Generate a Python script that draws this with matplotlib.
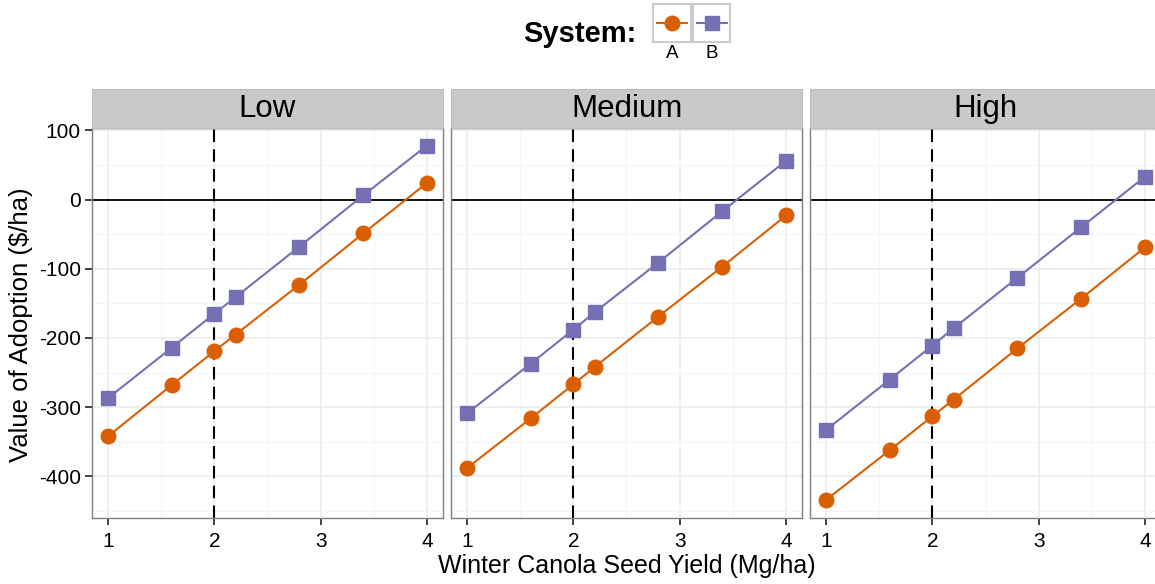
import matplotlib
matplotlib.use("Agg")
import matplotlib.pyplot as plt
from matplotlib.ticker import MultipleLocator

plt.rcParams['font.family'] = ['Liberation Sans', 'DejaVu Sans']

yield_x = [1.0, 1.6, 2.0, 2.2, 2.8, 3.4, 4.0]
panels = ["Low", "Medium", "High"]
systems = ["A", "B"]

low_A = [-342, -268, -219, -195, -123, -49, 24]
low_B = [-287, -214, -165, -141, -68, 6, 78]
med_A = [-388, -316, -267, -242, -169, -97, -23]
med_B = [-309, -237, -188, -163, -91, -17, 56]
high_A = [-434, -362, -313, -289, -215, -143, -69]
high_B = [-333, -260, -211, -186, -113, -40, 33]

data = {"Low": (low_A, low_B), "Medium": (med_A, med_B), "High": (high_A, high_B)}

x_ticks = [1, 2, 3, 4]
y_ticks = [-400, -300, -200, -100, 0, 100]
ref_x = 2

colors = {"A": "#D95F02", "B": "#7570B3"}
markers = {"A": "o", "B": "s"}
msize = {"A": 10.5, "B": 10}

W, H = 1155, 584
fig = plt.figure(figsize=(W / 100, H / 100), dpi=100)

def px_axes(l, t, r, b):
    return fig.add_axes([l / W, 1 - b / H, (r - l) / W, (b - t) / H])

lefts = [92, 451, 810]
pw = 351
top, bottom = 127.5, 518
strip_top = 89

for i, name in enumerate(panels):
    l = lefts[i]
    ax = px_axes(l, top, l + pw, bottom)
    ax.set_xlim(0.85, 4.15)
    ax.set_ylim(-460, 104)
    ax.xaxis.set_major_locator(MultipleLocator(1))
    ax.xaxis.set_minor_locator(MultipleLocator(0.5))
    ax.yaxis.set_major_locator(MultipleLocator(100))
    ax.yaxis.set_minor_locator(MultipleLocator(50))
    ax.grid(True, which='major', color='#EBEBEB', lw=1.1)
    ax.grid(True, which='minor', color='#F5F5F5', lw=0.8)
    ax.set_axisbelow(True)
    for sp in ax.spines.values():
        sp.set_color('#7F7F7F')
        sp.set_linewidth(1.0)
    ax.tick_params(which='minor', length=0)
    ax.tick_params(which='major', length=5, width=1.3, color='#333333',
                   labelsize=15, labelcolor='black', pad=3)
    ax.tick_params(axis='x', pad=5)
    ax.set_xticks(x_ticks)
    ax.set_yticks(y_ticks)
    if i == 0:
        ax.set_yticklabels([str(v) for v in y_ticks])
    else:
        ax.tick_params(axis='y', length=0, labelleft=False)
    ax.axhline(0, color='black', lw=1.3, zorder=2)
    ax.axvline(ref_x, color='black', lw=1.5, ls=(0, (6, 3.5)), zorder=2)
    for s, vals in zip(systems, data[name]):
        ax.plot(yield_x, vals, color=colors[s], lw=1.5, marker=markers[s],
                ms=msize[s], zorder=3, clip_on=False)
    # strip
    sax = px_axes(l, strip_top, l + pw, top)
    sax.set_facecolor('#C9C9C9')
    sax.set_xticks([]); sax.set_yticks([])
    for sp in sax.spines.values():
        sp.set_color('#BDBDBD')
        sp.set_linewidth(0.8)
    sax.text(0.5, 0.47, name, transform=sax.transAxes, ha='center', va='center',
             fontsize=22.5)

fig.text(627 / W, 1 - 566 / H, "Winter Canola Seed Yield (Mg/ha)", ha='center',
         va='center', fontsize=18)
fig.text(21 / W, 1 - 325 / H, "Value of Adoption ($/ha)", ha='center',
         va='center', rotation=90, fontsize=18.5)

# legend
fig.text(580 / W, 1 - 34 / H, "System:", ha='center', va='center',
         fontsize=21, fontweight='bold')
key_lefts = [653, 693]
for s, kl in zip(systems, key_lefts):
    kax = px_axes(kl, 3.5, kl + 37.5, 41.5)
    kax.set_xlim(0, 1); kax.set_ylim(0, 1)
    kax.set_xticks([]); kax.set_yticks([])
    kax.set_facecolor('white')
    for sp in kax.spines.values():
        sp.set_color('#CCCCCC')
        sp.set_linewidth(1.5)
    kax.plot([0.1, 0.9], [0.5, 0.5], color=colors[s], lw=1.5)
    kax.plot([0.5], [0.5], color=colors[s], marker=markers[s], ms=msize[s])
    fig.text((kl + 18.75) / W, 1 - 54 / H, s, ha='center', va='center', fontsize=13.5)

fig.savefig("out.png", dpi=100, facecolor='white')
